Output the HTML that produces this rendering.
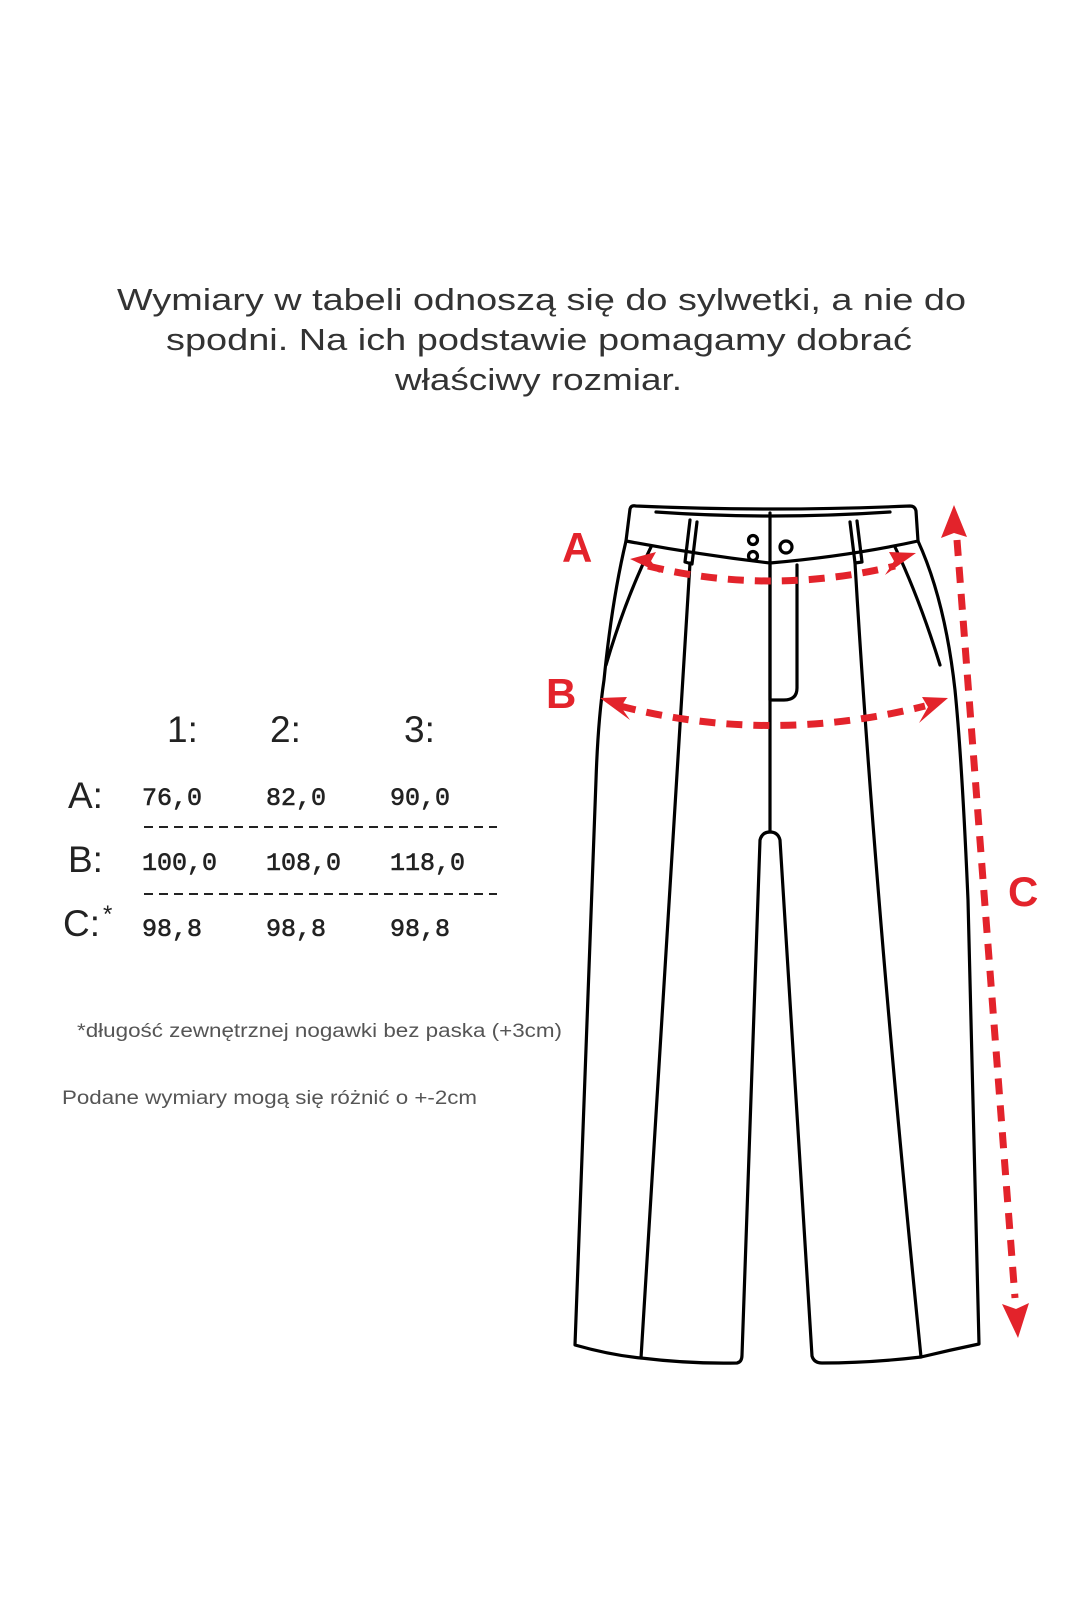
<!DOCTYPE html>
<html><head><meta charset="utf-8"><style>
html,body{margin:0;padding:0;background:#fff;}
svg{display:block;}
</style></head><body>
<svg width="1080" height="1620" viewBox="0 0 1080 1620" xmlns="http://www.w3.org/2000/svg">
<g font-family="Liberation Sans, DejaVu Sans, sans-serif" fill="#333" font-size="31">
<text x="117" y="310" textLength="849" lengthAdjust="spacingAndGlyphs">Wymiary w tabeli odnoszą się do sylwetki, a nie do</text>
<text x="166" y="350" textLength="746" lengthAdjust="spacingAndGlyphs">spodni. Na ich podstawie pomagamy dobrać</text>
<text x="395" y="390" textLength="287" lengthAdjust="spacingAndGlyphs">właściwy rozmiar.</text>
</g>
<g font-family="Liberation Sans, sans-serif" fill="#222" font-size="37">
<text x="167" y="742">1:</text>
<text x="270" y="742">2:</text>
<text x="404" y="742">3:</text>
<text x="68" y="808">A:</text>
<text x="68" y="872">B:</text>
<text x="63" y="936">C:</text>
<text x="103" y="922" font-size="24">*</text>
</g>
<g font-family="Liberation Mono, DejaVu Sans Mono, monospace" fill="#222" stroke="#222" stroke-width="0.6" font-size="25">
<text x="142" y="805">76,0</text><text x="266" y="805">82,0</text><text x="390" y="805">90,0</text>
<text x="142" y="870">100,0</text><text x="266" y="870">108,0</text><text x="390" y="870">118,0</text>
<text x="142" y="936">98,8</text><text x="266" y="936">98,8</text><text x="390" y="936">98,8</text>
</g>
<line x1="144" y1="827" x2="497" y2="827" stroke="#222" stroke-width="2" stroke-dasharray="9 6"/>
<line x1="144" y1="894" x2="497" y2="894" stroke="#222" stroke-width="2" stroke-dasharray="9 6"/>
<g font-family="Liberation Sans, sans-serif" fill="#555" font-size="19">
<text x="77" y="1037" textLength="485" lengthAdjust="spacingAndGlyphs">*długość zewnętrznej nogawki bez paska (+3cm)</text>
<text x="62" y="1104" textLength="415" lengthAdjust="spacingAndGlyphs">Podane wymiary mogą się różnić o +-2cm</text>
</g>
<g fill="none" stroke="#000" stroke-width="3.2" stroke-linejoin="round" stroke-linecap="round">
<path d="M626,541 L630,509 Q631,505 636,506 Q770,512 910,506 Q915,506 916,511 L918,541"/>
<path d="M656,512 Q770,520 890,512"/>
<path d="M626,541 Q700,555 770,563 Q850,556 918,541"/>
<path d="M690,520 L685,562 L692,564 L697,522"/>
<path d="M850,522 L855,563 L862,562 L857,521"/>
<path d="M770,513 L770,563"/>
<circle cx="753" cy="540" r="4.5"/><circle cx="753" cy="556" r="4.5"/><circle cx="786" cy="547" r="6"/>
<path d="M626,541 Q612,600 604,680 Q598,720 596,780 L575,1345 Q610,1355 641,1358 Q690,1364 737,1363 Q742,1362 742,1355 L760,840 Q762,832 770,832 Q778,832 780,840 L812,1356 Q814,1363 822,1363 Q870,1363 921,1357 Q950,1350 979,1344 L968,900 Q962,760 955,690 Q945,600 918,541"/>
<path d="M770,563 L770,832"/>
<path d="M770,565 L770,700 L784,700 Q797,700 797,688 L797,565"/>
<path d="M651,547 Q625,600 606,665"/>
<path d="M895,547 Q920,600 940,665"/>
<path d="M690,563 L641,1358"/>
<path d="M855,563 Q875,900 921,1357"/>
</g>
<g fill="none" stroke="#e3232b" stroke-width="7" stroke-dasharray="16 11">
<path d="M648,566 Q770,596 895,566"/>
<path d="M620,706 Q770,745 925,706"/>
<path d="M957,540 L1015,1298"/>
</g>
<g fill="#e3232b">
<polygon points="630,559 656,552 651,561 660,573"/>
<polygon points="916,553 889,552 894,561 885,575"/>
<polygon points="600,698 627,697 621,707 630,720"/>
<polygon points="948,698 922,697 928,707 919,723"/>
<polygon points="954,505 941,538 954,533 967,537"/>
<polygon points="1018,1338 1002,1304 1016,1309 1029,1303"/>
</g>
<g font-family="Liberation Sans, sans-serif" font-weight="bold" fill="#e3232b" font-size="42">
<text x="562" y="562">A</text>
<text x="546" y="708">B</text>
<text x="1008" y="906">C</text>
</g>
</svg>
</body></html>
